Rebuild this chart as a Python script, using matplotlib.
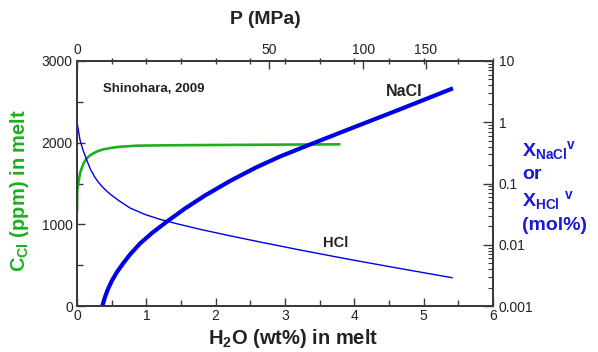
import matplotlib
matplotlib.use("Agg")
import matplotlib.pyplot as plt
from matplotlib.ticker import MultipleLocator, FixedLocator, FixedFormatter, NullFormatter, LogLocator

plt.rcParams['font.family'] = ['Liberation Sans', 'DejaVu Sans']
plt.rcParams['mathtext.fontset'] = 'custom'
plt.rcParams['mathtext.rm'] = 'Liberation Sans:bold'
plt.rcParams['mathtext.bf'] = 'Liberation Sans:bold'
plt.rcParams['mathtext.it'] = 'Liberation Sans:bold'

# ---- data ----
h2o_green = [0.0, 0.004, 0.019, 0.043, 0.068, 0.10, 0.14, 0.19, 0.235, 0.30, 0.38,
             0.50, 0.62, 0.86, 1.2, 1.5, 2.5, 3.80]
ccl_green = [1155, 1420, 1502, 1625, 1686, 1755, 1808, 1845, 1869, 1897, 1918,
             1937, 1950, 1963, 1967, 1969, 1974, 1980]

h2o_hcl = [0.0, 0.0216, 0.0433, 0.0865, 0.140, 0.195, 0.260, 0.317, 0.389, 0.476,
           0.591, 0.765, 0.981, 1.197, 1.442, 1.774, 2.207, 2.640, 3.217, 3.938,
           4.659, 5.409]
x_hcl = [1.0, 0.720, 0.513, 0.352, 0.242, 0.1693, 0.1253, 0.1019, 0.0829, 0.0674,
         0.0538, 0.0398, 0.0312, 0.0260, 0.0220, 0.01788, 0.0140, 0.01109, 0.00821,
         0.00574, 0.00409, 0.00290]

h2o_nacl = [0.361, 0.404, 0.447, 0.505, 0.577, 0.664, 0.765, 0.909, 1.082, 1.298,
            1.558, 1.846, 2.207, 2.567, 2.928, 3.361, 3.938, 4.659, 5.423]
x_nacl = [0.000974, 0.001403, 0.001895, 0.002608, 0.003590, 0.004942, 0.006933,
          0.01048, 0.01555, 0.02396, 0.03906, 0.06369, 0.1099, 0.1791, 0.2759,
          0.4332, 0.7818, 1.627, 3.584]

p_ticks = [0, 50, 100, 150]
h2o_at_p = [0.0, 2.77, 4.13, 5.03]

x_ticks = [0, 1, 2, 3, 4, 5, 6]
ppm_ticks = [0, 1000, 2000, 3000]
xv_ticks = [0.001, 0.01, 0.1, 1, 10]
xv_labels = ['0.001', '0.01', '0.1', '1', '10']

GREEN = '#1fae1f'
BLUE = '#0000e6'
LBLUE = '#1a1ad6'
SPINE = '#3a3a3a'
TXT = '#222222'

fig = plt.figure(figsize=(5.98, 3.52), dpi=100)
ax = fig.add_axes([77/598, 1-306/352, (493-77)/598, (306-61)/352])
ax2 = ax.twinx()
ax3 = ax.twiny()

ax.set_xlim(0, 6)
ax.set_ylim(0, 3000)
ax2.set_yscale('log')
ax2.set_ylim(0.001, 10)
ax3.set_xlim(0, 6)

ax.plot(h2o_green, ccl_green, color=GREEN, lw=1.9, solid_capstyle='butt',
        solid_joinstyle='round', zorder=3)
ax2.plot(h2o_hcl, x_hcl, color=BLUE, lw=1.0, solid_joinstyle='round', zorder=3)
ax2.plot(h2o_nacl, x_nacl, color=BLUE, lw=3.0, solid_capstyle='butt',
         solid_joinstyle='round', zorder=4)

for a in (ax, ax2, ax3):
    for s in a.spines.values():
        s.set_color(SPINE)
        s.set_linewidth(1.2)

TS = 10

# bottom axis
ax.xaxis.set_major_locator(FixedLocator(x_ticks))
ax.xaxis.set_minor_locator(MultipleLocator(0.5))
ax.tick_params(axis='x', which='both', direction='in', top=False, bottom=True,
               colors=SPINE, labelcolor=TXT, labelsize=TS, pad=2.5)
ax.tick_params(axis='x', which='major', length=6, width=1.0)
ax.tick_params(axis='x', which='minor', length=4, width=1.0)

# left axis
ax.yaxis.set_major_locator(FixedLocator(ppm_ticks))
ax.yaxis.set_minor_locator(MultipleLocator(500))
ax.tick_params(axis='y', which='both', direction='in', left=True, right=False,
               colors=SPINE, labelcolor=TXT, labelsize=TS, pad=3)
ax.tick_params(axis='y', which='major', length=6, width=1.0)
ax.tick_params(axis='y', which='minor', length=4, width=1.0)

# right axis (log)
ax2.yaxis.set_major_locator(FixedLocator(xv_ticks))
ax2.yaxis.set_major_formatter(FixedFormatter(xv_labels))
ax2.yaxis.set_minor_locator(LogLocator(base=10, subs=range(2, 10)))
ax2.yaxis.set_minor_formatter(NullFormatter())
ax2.tick_params(axis='y', which='both', direction='in', colors=SPINE, labelcolor=TXT,
                labelsize=TS, pad=4)
ax2.tick_params(axis='y', which='major', length=7, width=1.0)
ax2.tick_params(axis='y', which='minor', length=3.5, width=0.8)

# top axis (pressure)
ax3.xaxis.set_major_locator(FixedLocator(h2o_at_p))
ax3.xaxis.set_major_formatter(FixedFormatter([str(p) for p in p_ticks]))
ax3.xaxis.set_minor_locator(MultipleLocator(0.5))
ax3.xaxis.set_minor_formatter(NullFormatter())
ax3.tick_params(axis='x', which='major', direction='in', length=6, width=1.0,
                colors=SPINE, labelcolor=TXT, labelsize=TS, pad=3)
ax3.tick_params(axis='x', which='minor', direction='inout', length=4, width=1.0, colors=SPINE)

# labels
fig.text(265/598, 1-20/352, 'P (MPa)', ha='center', va='center', fontsize=14,
         fontweight='bold', color=TXT)
fig.text(293/598, 1-339/352, r'H$_{\mathbf{2}}$O (wt%) in melt', ha='center', va='center',
         fontsize=14.5, fontweight='bold', color=TXT)
fig.text(20/598, 1-190/352, r'C$_{\mathbf{Cl}}$ (ppm) in melt', ha='center', va='center',
         rotation=90, fontsize=14.5, fontweight='bold', color=GREEN)

rx = 522/598
fig.text(rx, 1-150/352, r'X$_{\mathbf{NaCl}}$$^{\mathbf{v}}$', ha='left', va='center',
         fontsize=14, fontweight='bold', color=LBLUE)
fig.text(rx, 1-174/352, 'or', ha='left', va='center',
         fontsize=14, fontweight='bold', color=LBLUE)
fig.text(rx, 1-201/352, r'X$_{\mathbf{HCl}}$ $^{\mathbf{v}}$', ha='left', va='center',
         fontsize=14, fontweight='bold', color=LBLUE)
fig.text(rx, 1-225/352, '(mol%)', ha='left', va='center',
         fontsize=14, fontweight='bold', color=LBLUE)

ax.text((103-77)/416, (306-89)/245, 'Shinohara, 2009', transform=ax.transAxes,
        ha='left', va='center', fontsize=9.5, fontweight='bold', color=TXT)
ax.text((386-77)/416, (306-91)/245, 'NaCl', transform=ax.transAxes,
        ha='left', va='center', fontsize=11.5, fontweight='bold', color=TXT)
ax.text((323-77)/416, (306-243)/245, 'HCl', transform=ax.transAxes,
        ha='left', va='center', fontsize=10.5, fontweight='bold', color=TXT)

fig.savefig('out.png', dpi=100)
